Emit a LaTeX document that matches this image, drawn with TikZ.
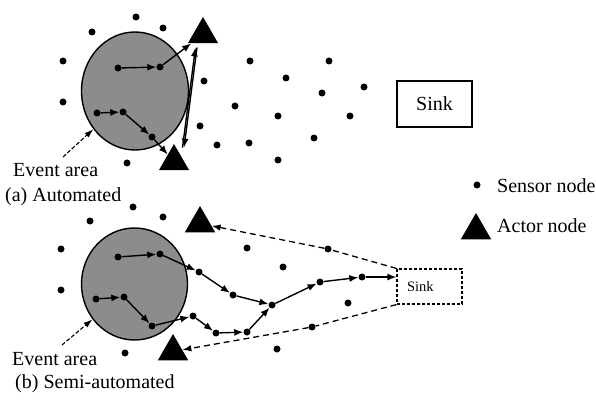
\documentclass[tikz,border=0pt]{standalone}
\usepackage{fontspec}
\setmainfont{Liberation Serif}
\usetikzlibrary{arrows.meta,shapes.geometric,calc}
\begin{document}
\begin{tikzpicture}[x=1pt,y=-1pt,
  sensor/.style={circle,fill=black,inner sep=0pt,minimum size=7pt},
  actor/.style={regular polygon,regular polygon sides=3,fill=black,inner sep=0pt,minimum size=35pt},
  area/.style={ellipse,draw=black,line width=1.4pt,fill=black!45,inner sep=0pt},
  hop/.style={line width=1.4pt,-{Latex[length=9pt,width=7pt]}},
  report/.style={line width=1.3pt,dash pattern=on 6pt off 4pt,-{Latex[length=9pt,width=6.5pt]}},
  pointer/.style={line width=1.1pt,dash pattern=on 4pt off 2pt,-{Latex[length=9pt,width=6pt]}},
  lbl/.style={font=\fontsize{20}{24}\selectfont,anchor=base west,inner sep=0pt},
  sinkbox/.style={draw=black,line width=1.6pt,minimum width=75pt,minimum height=46pt,
    inner sep=0pt,font=\fontsize{20}{24}\selectfont},
  smallsink/.style={draw=black,line width=1.2pt,densely dashed,minimum height=35pt,
    text width=45pt,align=left,inner xsep=10pt,inner ysep=0pt,font=\fontsize{14.5}{17}\selectfont}
]
\useasboundingbox (0,0) rectangle (596,403);

% ---------- (a) automated ----------
\node[area,minimum width=107pt,minimum height=118pt] (E1) at (135,91) {};
\foreach \p [count=\i] in {(136,17),(163,28),(92,32),(63,61),(63,102),(127,163),
  (204,81),(250,61),(286,78),(235,106),(278,116),(200,126),(217,145),(249,143),
  (278,160),(329,61),(322,93),(364,87),(350,116),(314,138)}
  \node[sensor] (ua\i) at \p {};
\node[sensor] (a1) at (118,68) {};
\node[sensor] (a2) at (160,67) {};
\node[sensor] (b1) at (97,113) {};
\node[sensor] (b2) at (123,112) {};
\node[sensor] (b3) at (152,137) {};
\node[actor] (T1) at (203,34.5) {};
\node[actor] (T2) at (174,161.5) {};
\node[sinkbox] (S1) at (434.5,104) {Sink};

\draw[hop] (a1) -- (a2);
\draw[hop] (a2) -- (T1);
\draw[hop] (b1) -- (b2);
\draw[hop] (b2) -- (b3);
\draw[hop] (b3) -- (T2);
\draw[hop] ($(T1.south)+(-6,4)$) -- ($(T2.north)+(10,4)$);
\draw[hop] ($(T2.north)+(8.5,4)$) -- ($(T1.south)+(-7.5,4)$);

\coordinate (ea1) at (63,157);
\draw[pointer] (ea1) -- (E1);
\node[lbl] (ev1) at (13,177) {Event area};
\node[lbl] (capa) at (5,201) {(a) Automated};

% ---------- legend ----------
\node[sensor] (lg1) at (477,185) {};
\node[lbl] (lgt1) at (497,193) {Sensor node};
\node[actor] (lg2) at (476,230.5) {};
\node[lbl] (lgt2) at (497,232) {Actor node};

% ---------- (b) semi-automated ----------
\node[area,minimum width=106pt,minimum height=112pt] (E2) at (134.5,284) {};
\foreach \p [count=\i] in {(133,207),(163,217),(90,221),(61,249),(61,290),(125,353),
  (247,248),(283,267),(277,349),(348,303)}
  \node[sensor] (ub\i) at \p {};
\node[sensor] (p1) at (118,257) {};
\node[sensor] (p2) at (160,254) {};
\node[sensor] (p3) at (199,272) {};
\node[sensor] (p4) at (233,295) {};
\node[sensor] (J) at (272,305) {};
\node[sensor] (p5) at (320,282) {};
\node[sensor] (p6) at (362,277) {};
\node[sensor] (q1) at (96,299) {};
\node[sensor] (q2) at (124,297) {};
\node[sensor] (q3) at (152,326) {};
\node[sensor] (q4) at (193,316) {};
\node[sensor] (q5) at (216,333) {};
\node[sensor] (q6) at (247,332) {};
\node[sensor] (d1) at (328,249) {};
\node[sensor] (d2) at (312,327) {};
\node[actor] (T3) at (200,223.5) {};
\node[actor] (T4) at (173,351.5) {};
\node[smallsink] (S2) at (429.5,286.5) {Sink};

\draw[hop] (p1) -- (p2);
\draw[hop] (p2) -- (p3);
\draw[hop] (p3) -- (p4);
\draw[hop] (p4) -- (J);
\draw[hop] (J) -- (p5);
\draw[hop] (p5) -- (p6);
\draw[hop] (p6) -- (S2.west |- p6);
\draw[hop] (q1) -- (q2);
\draw[hop] (q2) -- (q3);
\draw[hop] (q3) -- (q4);
\draw[hop] (q4) -- (q5);
\draw[hop] (q5) -- (q6);
\draw[hop] (q6) -- (J);

\draw[report] (S2.north west) -- (d1) -- (T3);
\draw[report] (S2.south west) -- (d2) -- (T4);

\coordinate (ea2) at (62,345);
\draw[pointer] (ea2) -- (E2);
\node[lbl] (ev2) at (12,365) {Event area};
\node[lbl] (capb) at (15,388) {(b) Semi-automated};
\end{tikzpicture}
\end{document}
